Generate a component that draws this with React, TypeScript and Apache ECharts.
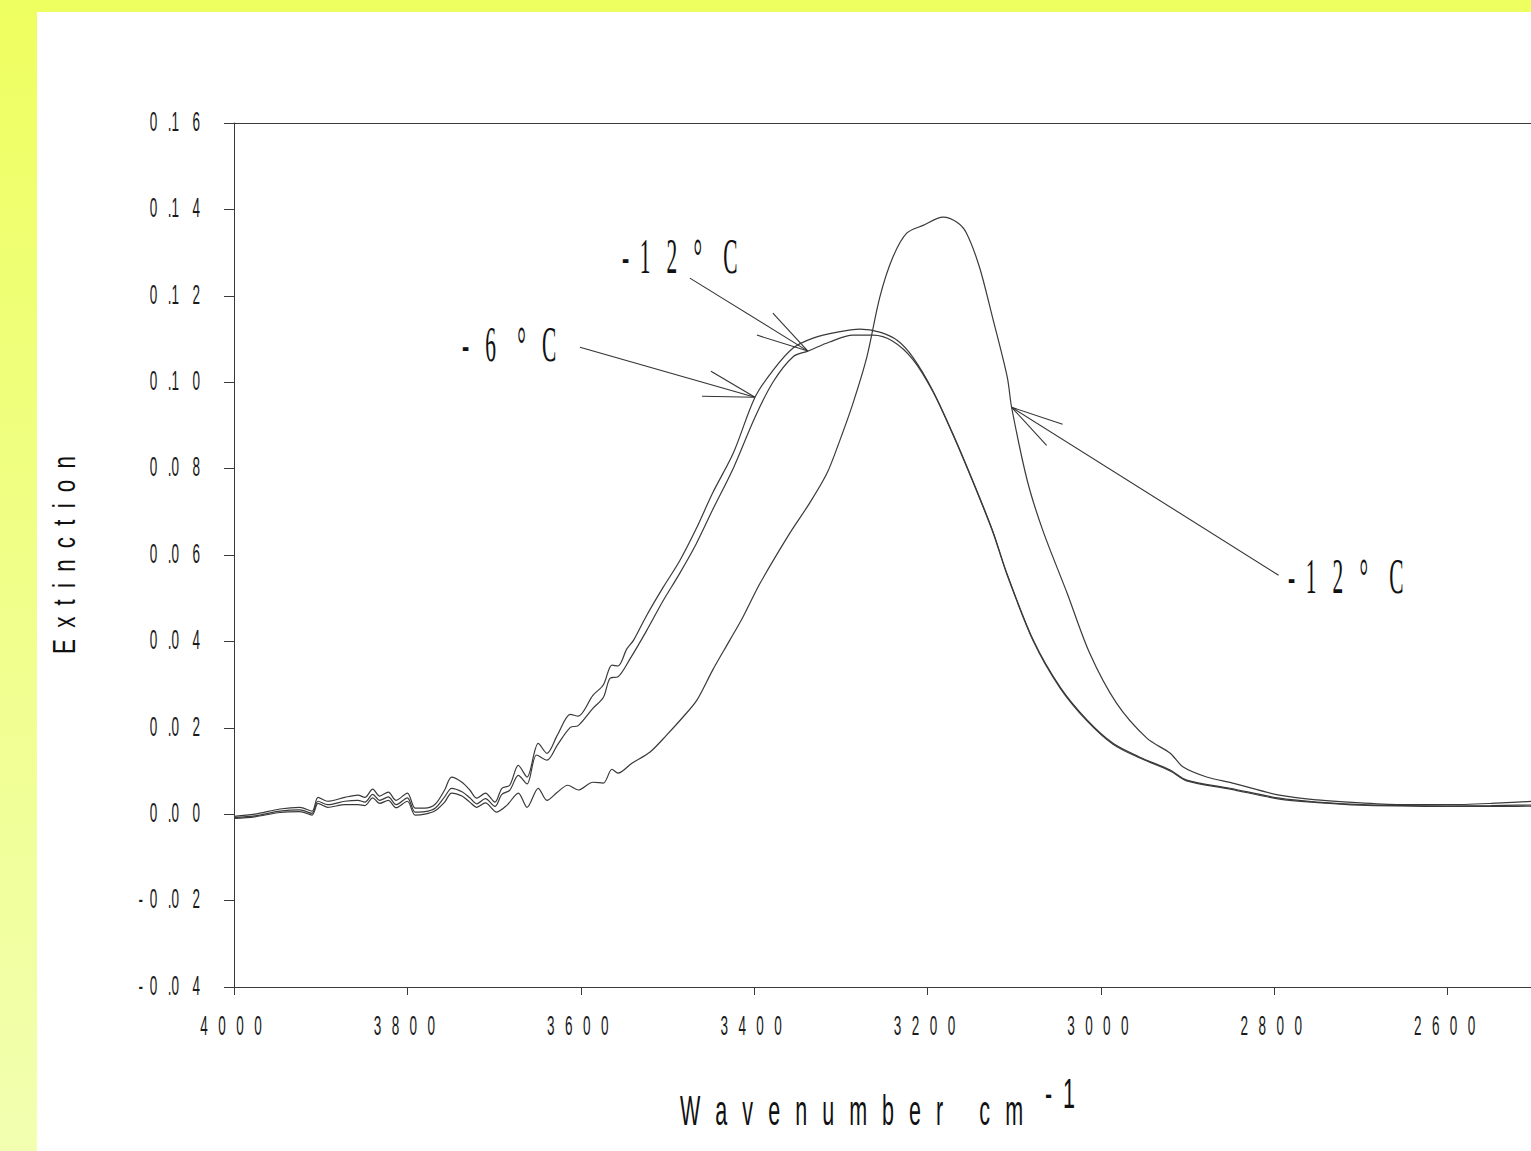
import React, { useEffect, useRef } from "react";
import * as echarts from "echarts";

// ---- axis ticks ----
const xTicks = [4000, 3800, 3600, 3400, 3200, 3000, 2800, 2600];
const yTicks = [0.16, 0.14, 0.12, 0.1, 0.08, 0.06, 0.04, 0.02, 0, -0.02, -0.04];

// ---- series: -6 °C ----
const wnMinus6 = [
  4000, 3976, 3947, 3924, 3910, 3903, 3892, 3872, 3857, 3849, 3840, 3832, 3822, 3813, 3800, 3791,
  3780, 3768, 3757, 3749, 3737, 3728, 3720, 3710, 3699, 3691, 3682, 3672, 3662, 3649, 3639, 3627,
  3612, 3603, 3586, 3574, 3564, 3557, 3547, 3539, 3524, 3505, 3486, 3467, 3448, 3424, 3399, 3378,
  3355, 3332, 3304, 3278, 3255, 3235, 3217, 3194, 3171, 3148, 3125, 3108, 3078, 3047, 3016, 2986,
  2955, 2920, 2901, 2851, 2794, 2750, 2700, 2650, 2600, 2550, 2480,
];
const extMinus6 = [
  -0.0005, 0.0, 0.0012, 0.0016, 0.0007, 0.0039, 0.003, 0.0039, 0.0044, 0.0039, 0.0058, 0.0042, 0.0051, 0.0032, 0.0049, 0.0014,
  0.0014, 0.0023, 0.0056, 0.0086, 0.0074, 0.0056, 0.0037, 0.0049, 0.0028, 0.006, 0.0067, 0.0113, 0.0086, 0.0164, 0.0141, 0.0183,
  0.0231, 0.0227, 0.0275, 0.0299, 0.0345, 0.0343, 0.0382, 0.0403, 0.046, 0.0525, 0.0586, 0.066, 0.0743, 0.0836, 0.0965, 0.1028,
  0.1079, 0.1102, 0.1116, 0.1123, 0.1116, 0.1097, 0.1058, 0.0981, 0.0882, 0.0773, 0.0657, 0.0555, 0.0403, 0.0294, 0.0218, 0.0164,
  0.0132, 0.0102, 0.0079, 0.006, 0.0037, 0.0028, 0.0022, 0.002, 0.0019, 0.002, 0.0022,
];

// ---- series: -12 °C (broad band) ----
const wnMinus12a = [
  4000, 3976, 3947, 3924, 3910, 3903, 3892, 3872, 3857, 3849, 3840, 3832, 3822, 3813, 3800, 3791,
  3780, 3768, 3757, 3749, 3737, 3728, 3720, 3710, 3699, 3691, 3682, 3672, 3662, 3651, 3639, 3627,
  3612, 3603, 3586, 3574, 3566, 3557, 3543, 3524, 3505, 3486, 3467, 3448, 3424, 3399, 3378, 3355,
  3338, 3313, 3286, 3263, 3240, 3217, 3194, 3171, 3148, 3125, 3108, 3078, 3047, 3016, 2986, 2955,
  2920, 2901, 2851, 2794, 2750, 2700, 2650, 2600, 2550, 2480,
];
const extMinus12a = [
  -0.0008, -0.0004, 0.0007, 0.001, 0.0002, 0.003, 0.0022, 0.003, 0.0032, 0.0028, 0.0046, 0.0032, 0.004, 0.0022, 0.0038, 0.0005,
  0.0006, 0.0014, 0.004, 0.006, 0.0052, 0.0038, 0.0024, 0.0036, 0.0018, 0.0046, 0.0055, 0.009, 0.007, 0.0137, 0.0125, 0.016,
  0.0201, 0.0205, 0.0245, 0.027, 0.0315, 0.0318, 0.036, 0.0425, 0.0494, 0.0557, 0.0625, 0.0704, 0.0801, 0.0919, 0.1001, 0.1059,
  0.1072, 0.1093, 0.1109, 0.1109, 0.1095, 0.1053, 0.0979, 0.088, 0.0771, 0.0655, 0.0553, 0.0401, 0.0292, 0.0216, 0.0162, 0.013,
  0.01, 0.0077, 0.0058, 0.0035, 0.0027, 0.0021, 0.0019, 0.0018, 0.0018, 0.0019,
];

// ---- series: -12 °C (sharp band) ----
const wnMinus12b = [
  4000, 3976, 3947, 3924, 3910, 3903, 3892, 3872, 3857, 3849, 3840, 3832, 3822, 3813, 3800, 3791,
  3780, 3768, 3757, 3749, 3737, 3728, 3720, 3710, 3697, 3685, 3672, 3662, 3649, 3639, 3627, 3615,
  3603, 3586, 3574, 3564, 3557, 3541, 3520, 3501, 3482, 3466, 3448, 3428, 3413, 3393, 3359, 3336,
  3316, 3301, 3286, 3270, 3255, 3240, 3224, 3205, 3182, 3166, 3155, 3140, 3125, 3108, 3103, 3085,
  3067, 3039, 3013, 2982, 2947, 2920, 2905, 2878, 2848, 2794, 2750, 2700, 2650, 2600, 2550, 2480,
];
const extMinus12b = [
  -0.001, -0.0006, 0.0004, 0.0006, -0.0002, 0.0025, 0.0016, 0.0022, 0.0022, 0.002, 0.0038, 0.0025, 0.0032, 0.0015, 0.003, -0.0002,
  0.0, 0.0008, 0.0028, 0.0049, 0.0042, 0.0028, 0.0016, 0.0026, 0.0005, 0.0021, 0.0049, 0.0016, 0.006, 0.0032, 0.0051, 0.0067,
  0.0056, 0.0074, 0.0072, 0.0104, 0.0095, 0.0118, 0.0144, 0.0183, 0.0225, 0.0264, 0.0333, 0.0403, 0.0456, 0.0535, 0.065, 0.072,
  0.0789, 0.0866, 0.0951, 0.1058, 0.1197, 0.1289, 0.1345, 0.1363, 0.1382, 0.137, 0.1345, 0.1266, 0.115, 0.1012, 0.0942, 0.0773,
  0.0657, 0.0512, 0.0373, 0.0257, 0.0176, 0.0141, 0.0109, 0.0086, 0.0072, 0.0044, 0.0033, 0.0026, 0.0022, 0.0022, 0.0025, 0.0032,
];

// ---- annotation targets (points on the curves) ----
const arrowMinus12a = [3338, 0.1072];
const arrowMinus6 = [3399, 0.0965];
const arrowMinus12b = [3103, 0.0942];

const W = 1700;
const H = 1151;
const INK = "#3a3a3a";

function xLabel(v: number): string {
  return String(v).split("").join("\u2002 ");
}
function yLabel(v: number): string {
  const s = Math.abs(v).toFixed(2);
  const [ip, dp] = s.split(".");
  return (v < 0 ? "-\u2002" : "") + ip + "\u2002 ." + dp[0] + "\u2003" + dp[1];
}

export default function App() {
  const ref = useRef<HTMLDivElement>(null);
  useEffect(() => {
    if (!ref.current) return;
    const chart = echarts.init(ref.current, null, { renderer: "svg", width: W, height: H });
    const mk = (wn: number[], ext: number[]) => wn.map((w, i) => [w, ext[i]]);
    const lineSeries = (name: string, data: number[][]) => ({
      name,
      type: "line",
      data,
      showSymbol: false,
      symbol: "none",
      smooth: 0.3,
      lineStyle: { color: INK, width: 1.2 },
      xAxisIndex: 0,
      yAxisIndex: 0,
    });
    chart.setOption({
      animation: false,
      backgroundColor: "#ffffff",
      grid: { left: 234, top: 123, width: 1387, height: 864 },
      xAxis: [
        {
          type: "value",
          inverse: true,
          min: 2400,
          max: 4000,
          interval: 200,
          axisLine: { show: true, onZero: false, lineStyle: { color: INK, width: 1 } },
          axisTick: { show: true, length: 8, inside: false, lineStyle: { color: INK, width: 1 } },
          axisLabel: { show: false },
          splitLine: { show: false },
        },
        {
          type: "value",
          position: "top",
          inverse: true,
          min: 2400,
          max: 4000,
          interval: 200,
          axisLine: { show: true, onZero: false, lineStyle: { color: INK, width: 1 } },
          axisTick: { show: false },
          axisLabel: { show: false },
          splitLine: { show: false },
        },
      ],
      yAxis: {
        type: "value",
        min: -0.04,
        max: 0.16,
        interval: 0.02,
        axisLine: { show: true, onZero: false, lineStyle: { color: INK, width: 1 } },
        axisTick: { show: true, length: 10, inside: false, lineStyle: { color: INK, width: 1 } },
        axisLabel: { show: false },
        splitLine: { show: false },
      },
      series: [
        lineSeries("-6 °C", mk(wnMinus6, extMinus6)),
        lineSeries("-12 °C", mk(wnMinus12a, extMinus12a)),
        lineSeries("-12 °C (2)", mk(wnMinus12b, extMinus12b)),
      ],
    });

    const tickFont = { fontFamily: "Liberation Sans", fontSize: 27, fill: "#1a1a1a" };
    const elements: any[] = [
      { type: "rect", z: -10, shape: { x: 0, y: 0, width: W, height: 12 }, style: { fill: "#EEFF60" } },
      {
        type: "rect",
        z: -10,
        shape: { x: 0, y: 0, width: 37, height: H },
        style: {
          fill: new echarts.graphic.LinearGradient(0, 0, 0, 1, [
            { offset: 0, color: "#EEFF60" },
            { offset: 1, color: "#F2FFB0" },
          ]),
        },
      },
    ];
    xTicks.forEach((t) => {
      const px = chart.convertToPixel({ xAxisIndex: 0 }, t) as number;
      elements.push({
        type: "text",
        x: px - 3,
        y: 1026,
        scaleX: 0.5,
        style: { ...tickFont, text: xLabel(t), textAlign: "center", textVerticalAlign: "middle" },
      });
    });
    yTicks.forEach((t) => {
      const py = chart.convertToPixel({ yAxisIndex: 0 }, t) as number;
      elements.push({
        type: "text",
        x: 200,
        y: py - 1,
        scaleX: 0.5,
        style: { ...tickFont, text: yLabel(t), textAlign: "right", textVerticalAlign: "middle" },
      });
    });
    // axis titles
    elements.push({
      type: "text",
      x: 680,
      y: 1110,
      scaleX: 0.5,
      style: {
        text: "Wavenumber cm".split("").join("\u2002\u2009"),
        fontFamily: "Liberation Sans",
        fontSize: 43,
        fill: "#111",
        textAlign: "left",
        textVerticalAlign: "middle",
      },
    });
    elements.push({
      type: "text",
      x: 1045,
      y: 1093,
      scaleX: 0.5,
      style: {
        text: "-\u20021",
        fontFamily: "Liberation Sans",
        fontSize: 43,
        fill: "#111",
        textAlign: "left",
        textVerticalAlign: "middle",
      },
    });
    elements.push({
      type: "text",
      x: 64,
      y: 555,
      rotation: Math.PI / 2,
      scaleX: 0.7,
      style: {
        text: "Extinction".split("").join("\u2002"),
        fontFamily: "Liberation Sans",
        fontSize: 32,
        fill: "#111",
        textAlign: "center",
        textVerticalAlign: "middle",
      },
    });
    // annotation labels
    const labelStyle = { fontFamily: "Liberation Serif", fontSize: 51, fill: "#111", textAlign: "left", textVerticalAlign: "middle" };
    elements.push({ type: "text", x: 622, y: 255, scaleX: 0.42, style: { ...labelStyle, text: "-\u20021\u2002 2\u2002 °\u2003C" } });
    elements.push({ type: "text", x: 462, y: 343, scaleX: 0.42, style: { ...labelStyle, text: "-\u2002 6\u2003°\u2002 C" } });
    elements.push({ type: "text", x: 1288, y: 575, scaleX: 0.42, style: { ...labelStyle, text: "-\u20021\u2002 2\u2002 °\u2003C" } });

    // arrows
    const arrow = (target: number[], start: number[], w1: number[], w2: number[]) => {
      const tip = chart.convertToPixel({ gridIndex: 0 }, target) as number[];
      const ls = { stroke: "#333", lineWidth: 1.1, fill: "none" };
      elements.push({ type: "line", shape: { x1: tip[0] + start[0], y1: tip[1] + start[1], x2: tip[0], y2: tip[1] }, style: ls });
      elements.push({ type: "line", shape: { x1: tip[0] + w1[0], y1: tip[1] + w1[1], x2: tip[0], y2: tip[1] }, style: ls });
      elements.push({ type: "line", shape: { x1: tip[0] + w2[0], y1: tip[1] + w2[1], x2: tip[0], y2: tip[1] }, style: ls });
    };
    arrow(arrowMinus12a, [-118, -73], [-35, -38], [-51, -16]);
    arrow(arrowMinus6, [-175, -50], [-44, -26], [-53, -1]);
    arrow(arrowMinus12b, [267, 168], [51, 17], [35, 38]);

    chart.setOption({ graphic: { elements } });
    return () => chart.dispose();
  }, []);
  return (
    <div style={{ position: "fixed", left: 0, top: 0, width: 1531, height: 1151, overflow: "hidden", background: "#fff" }}>
      <div ref={ref} style={{ width: W, height: H }} />
    </div>
  );
}
